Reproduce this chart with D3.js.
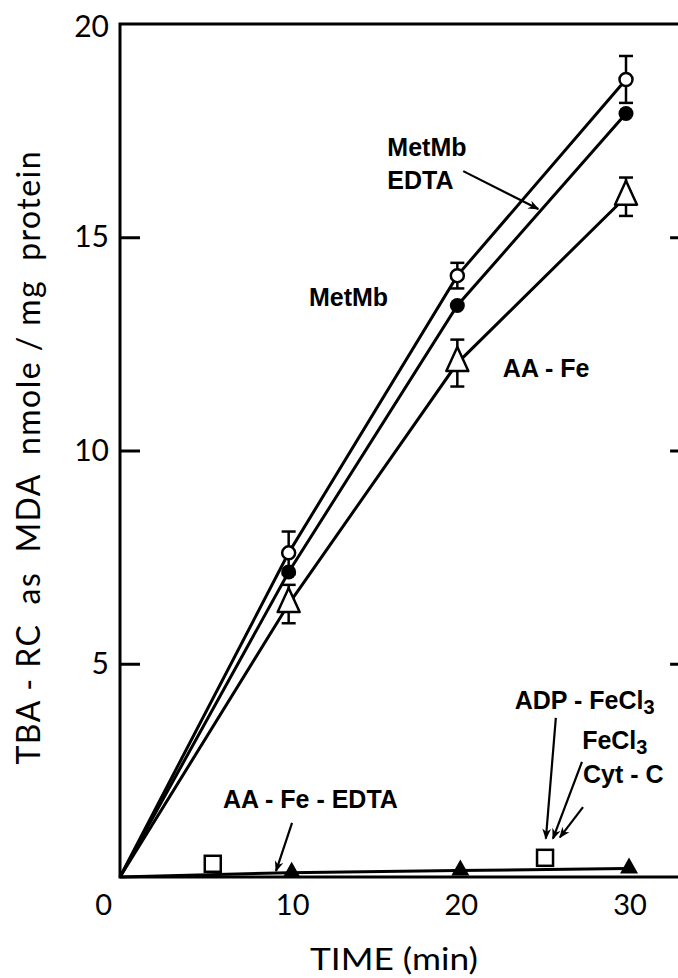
<!DOCTYPE html>
<html>
<head>
<meta charset="utf-8">
<script src="https://cdn.jsdelivr.net/npm/d3@7"></script>
<style>
  html, body { margin: 0; padding: 0; background: #fff; }
  svg { display: block; }
</style>
</head>
<body>
<svg id="chart" width="678" height="978"></svg>
<script>
// data
const times = [0, 10, 20, 30];
const metMb = [0, 7.6, 14.1, 18.7];
const metMbErr = [0, 0.5, 0.3, 0.55];
const metMbEdta = [0, 7.15, 13.4, 17.9];
const aaFe = [0, 6.4, 12.05, 15.95];
const aaFeErr = [0, 0.45, 0.55, 0.45];
const aaFeEdta = [0, 0.1, 0.15, 0.2];
const squareTimes = [5.5, 25.2];
const squareValues = [0.31, 0.45];
const xTickValues = [0, 10, 20, 30];
const yTickValues = [5, 10, 15];
const yTopValue = 20;

const svg = d3.select(`#chart`);

const x = d3.scaleLinear().domain([0, 30]).range([120, 626]);
const y = d3.scaleLinear().domain([0, 20]).range([877, 24]);
const frameRight = x(33.8);

const ink = `#000`;
const numFont = `Lato, "DejaVu Sans", sans-serif`;
const labelFont = `"Liberation Sans", Arial, sans-serif`;

// frame
svg.append(`path`)
    .attr(`d`, `M${frameRight},${y(20)} H${x(0)} V${y(0)} H${frameRight} Z`)
    .attr(`fill`, `none`)
    .attr(`stroke`, ink)
    .attr(`stroke-width`, 3);

// left ticks (pointing in) with labels
const yAxis = d3.axisLeft(y)
    .tickValues(yTickValues)
    .tickSize(-20)
    .tickPadding(11)
    .tickFormat(d3.format(`d`));
const gy = svg.append(`g`)
    .attr(`transform`, `translate(${x(0)},0)`)
    .call(yAxis);
gy.select(`.domain`).remove();
gy.selectAll(`line`).attr(`stroke`, ink).attr(`stroke-width`, 3);
gy.selectAll(`text`)
    .attr(`font-family`, numFont)
    .attr(`font-size`, 30)
    .attr(`fill`, ink);

// top label "20"
svg.append(`text`)
    .attr(`x`, x(0) - 11)
    .attr(`y`, y(yTopValue))
    .attr(`dy`, `0.42em`)
    .attr(`text-anchor`, `end`)
    .attr(`font-family`, numFont)
    .attr(`font-size`, 30)
    .text(yTopValue);

// right ticks
const gyr = svg.append(`g`)
    .attr(`transform`, `translate(${frameRight},0)`)
    .call(d3.axisRight(y).tickValues(yTickValues).tickSize(-20).tickFormat(``));
gyr.select(`.domain`).remove();
gyr.selectAll(`line`).attr(`stroke`, ink).attr(`stroke-width`, 3);

// x tick labels
svg.append(`g`)
    .selectAll(`text`)
    .data(xTickValues)
    .join(`text`)
    .attr(`x`, d => d === 0 ? x(d) - 8 : x(d) + 4)
    .attr(`y`, 915)
    .attr(`text-anchor`, d => d === 0 ? `end` : `middle`)
    .attr(`font-family`, numFont)
    .attr(`font-size`, 29)
    .text(d => d);

// axis titles
svg.append(`text`)
    .attr(`x`, 394)
    .attr(`y`, 970)
    .attr(`text-anchor`, `middle`)
    .attr(`font-family`, numFont)
    .attr(`font-size`, 30)
    .attr(`textLength`, 168)
    .attr(`lengthAdjust`, `spacingAndGlyphs`)
    .text(`TIME (min)`);

svg.append(`text`)
    .attr(`transform`, `translate(40,458) rotate(-90)`)
    .attr(`text-anchor`, `middle`)
    .attr(`font-family`, numFont)
    .attr(`font-size`, 32)
    .attr(`textLength`, 613)
    .attr(`lengthAdjust`, `spacing`)
    .style(`white-space`, `pre`)
    .text(`TBA - RC  as  MDA  nmole / mg  protein`);

// lines
const line = d3.line().x(d => x(d[0])).y(d => y(d[1]));
const seriesList = [metMb, metMbEdta, aaFe, aaFeEdta];
svg.append(`g`)
    .selectAll(`path`)
    .data(seriesList)
    .join(`path`)
    .attr(`d`, s => line(times.map((t, i) => [t, s[i]])))
    .attr(`fill`, `none`)
    .attr(`stroke`, ink)
    .attr(`stroke-width`, 3);

// error bars
const errorBars = (values, errs) => times
    .map((t, i) => ({ t, v: values[i], e: errs[i] }))
    .filter(d => d.e > 0);
const drawErrors = (values, errs) => {
    const g = svg.append(`g`)
        .attr(`stroke`, ink)
        .attr(`stroke-width`, 2.5);
    const bars = errorBars(values, errs);
    g.selectAll(`.stem`).data(bars).join(`line`)
        .attr(`x1`, d => x(d.t)).attr(`x2`, d => x(d.t))
        .attr(`y1`, d => y(d.v + d.e)).attr(`y2`, d => y(d.v - d.e));
    g.selectAll(`.capTop`).data(bars).join(`line`)
        .attr(`x1`, d => x(d.t) - 7).attr(`x2`, d => x(d.t) + 7)
        .attr(`y1`, d => y(d.v + d.e)).attr(`y2`, d => y(d.v + d.e));
    g.selectAll(`.capBottom`).data(bars).join(`line`)
        .attr(`x1`, d => x(d.t) - 7).attr(`x2`, d => x(d.t) + 7)
        .attr(`y1`, d => y(d.v - d.e)).attr(`y2`, d => y(d.v - d.e));
};
drawErrors(metMb, metMbErr);
drawErrors(aaFe, aaFeErr);

const pts = values => times.map((t, i) => ({ t, v: values[i] })).filter(d => d.t > 0);

// open triangles (AA-Fe)
svg.append(`g`)
    .selectAll(`path`)
    .data(pts(aaFe))
    .join(`path`)
    .attr(`d`, `M0,-16 L11,8 L-11,8 Z`)
    .attr(`transform`, d => `translate(${x(d.t)},${y(d.v)})`)
    .attr(`fill`, `#fff`)
    .attr(`stroke`, ink)
    .attr(`stroke-width`, 2.5)
    .attr(`stroke-linejoin`, `round`);

// filled circles (MetMb + EDTA)
svg.append(`g`)
    .selectAll(`circle`)
    .data(pts(metMbEdta))
    .join(`circle`)
    .attr(`cx`, d => x(d.t))
    .attr(`cy`, d => y(d.v))
    .attr(`r`, 7.5)
    .attr(`fill`, ink);

// open circles (MetMb)
svg.append(`g`)
    .selectAll(`circle`)
    .data(pts(metMb))
    .join(`circle`)
    .attr(`cx`, d => x(d.t))
    .attr(`cy`, d => y(d.v))
    .attr(`r`, 6.5)
    .attr(`fill`, `#fff`)
    .attr(`stroke`, ink)
    .attr(`stroke-width`, 2.5);

// filled triangles (AA-Fe-EDTA)
svg.append(`g`)
    .selectAll(`path`)
    .data(pts(aaFeEdta))
    .join(`path`)
    .attr(`d`, `M0,-11 L9,5 L-9,5 Z`)
    .attr(`transform`, d => `translate(${x(d.t) + 3},${y(d.v)})`)
    .attr(`fill`, ink);

// open squares
svg.append(`g`)
    .selectAll(`rect`)
    .data(squareTimes.map((t, i) => ({ t, v: squareValues[i] })))
    .join(`rect`)
    .attr(`x`, d => x(d.t) - 8)
    .attr(`y`, d => y(d.v) - 8)
    .attr(`width`, 16)
    .attr(`height`, 16)
    .attr(`fill`, `#fff`)
    .attr(`stroke`, ink)
    .attr(`stroke-width`, 2.5);

// annotations (data coordinates)
svg.append(`defs`).append(`marker`)
    .attr(`id`, `head`)
    .attr(`viewBox`, `0 0 10 10`)
    .attr(`refX`, 9)
    .attr(`refY`, 5)
    .attr(`markerWidth`, 5)
    .attr(`markerHeight`, 5)
    .attr(`orient`, `auto`)
    .append(`path`)
    .attr(`d`, `M0,1 L10,5 L0,9 L3,5 Z`)
    .attr(`fill`, ink);

const labels = [
    { text: `MetMb`, t: 15.85, v: 16.9, sub: `` },
    { text: `EDTA`, t: 15.85, v: 16.13, sub: `` },
    { text: `MetMb`, t: 11.2, v: 13.39, sub: `` },
    { text: `AA - Fe`, t: 22.7, v: 11.72, sub: `` },
    { text: `ADP - FeCl`, t: 23.4, v: 3.94, sub: `3` },
    { text: `FeCl`, t: 27.4, v: 3.0, sub: `3` },
    { text: `Cyt - C`, t: 27.45, v: 2.2, sub: `` },
    { text: `AA - Fe - EDTA`, t: 6.1, v: 1.62, sub: `` },
];
const lt = svg.append(`g`)
    .selectAll(`text`)
    .data(labels)
    .join(`text`)
    .attr(`x`, d => x(d.t))
    .attr(`y`, d => y(d.v))
    .attr(`font-family`, labelFont)
    .attr(`font-weight`, `bold`)
    .attr(`font-size`, 25)
    .style(`white-space`, `pre`)
    .text(d => d.text);
lt.filter(d => d.sub)
    .append(`tspan`)
    .attr(`dy`, 5)
    .attr(`font-size`, 20)
    .text(d => d.sub);

const arrows = [
    [[20.35, 16.55], [24.8, 15.66]],
    [[25.84, 3.73], [25.25, 0.9]],
    [[27.39, 2.7], [25.67, 0.9]],
    [[27.45, 1.64], [26.08, 0.93]],
    [[10.2, 1.27], [9.25, 0.14]],
];
svg.append(`g`)
    .selectAll(`path`)
    .data(arrows)
    .join(`path`)
    .attr(`d`, a => line(a))
    .attr(`fill`, `none`)
    .attr(`stroke`, ink)
    .attr(`stroke-width`, 2.2)
    .attr(`marker-end`, `url(#head)`);
</script>
</body>
</html>
